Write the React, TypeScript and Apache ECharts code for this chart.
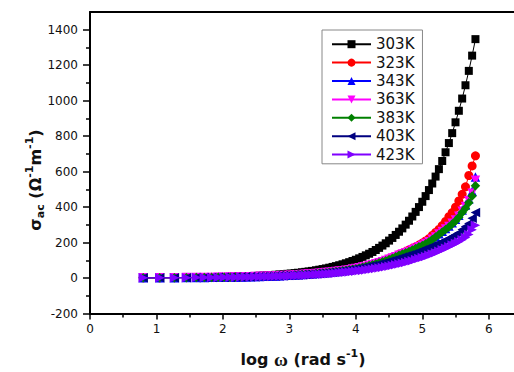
import React, { useEffect, useRef } from 'react';
import * as echarts from 'echarts';

// log ω (rad s^-1)
const logOmega = [0.80, 1.05, 1.27, 1.45, 1.60, 1.72, 1.83, 1.93, 2.02, 2.11, 2.19, 2.27, 2.34, 2.41, 2.48, 2.55, 2.61, 2.67, 2.73, 2.79, 2.85, 2.91, 2.97, 3.02, 3.08, 3.13, 3.19, 3.24, 3.29, 3.34, 3.40, 3.45, 3.50, 3.55, 3.60, 3.65, 3.70, 3.75, 3.80, 3.85, 3.90, 3.95, 4.00, 4.05, 4.10, 4.15, 4.20, 4.25, 4.30, 4.35, 4.40, 4.45, 4.50, 4.55, 4.60, 4.65, 4.70, 4.75, 4.80, 4.85, 4.90, 4.95, 5.00, 5.05, 5.10, 5.15, 5.20, 5.25, 5.30, 5.35, 5.40, 5.45, 5.50, 5.55, 5.60, 5.65, 5.70, 5.75, 5.80];

const sigma303 = [1.1, 1.5, 2.1, 2.7, 3.4, 4.0, 4.7, 5.4, 6.1, 7.0, 7.8, 8.8, 9.7, 10.7, 11.8, 13.1, 14.2, 15.5, 16.8, 18.3, 20.0, 21.7, 23.7, 25.4, 27.7, 29.8, 32.4, 34.8, 37.4, 40.2, 43.8, 47.0, 50.5, 54.2, 58.2, 62.6, 67.2, 72.2, 77.5, 83.2, 89.4, 96.0, 103, 111, 119, 128, 137, 147, 158, 170, 183, 196, 211, 226, 243, 261, 280, 301, 323, 347, 373, 400, 430, 462, 496, 533, 572, 614, 660, 709, 761, 817, 878, 943, 1012, 1087, 1168, 1254, 1347];
const sigma323 = [1.0, 1.4, 1.9, 2.3, 2.8, 3.3, 3.7, 4.2, 4.7, 5.2, 5.8, 6.4, 7.0, 7.7, 8.4, 9.2, 9.9, 10.6, 11.5, 12.3, 13.3, 14.3, 15.4, 16.4, 17.7, 18.8, 20.2, 21.5, 22.9, 24.3, 26.2, 27.9, 29.7, 31.6, 33.6, 35.8, 38, 40.5, 43, 46, 49, 52, 56, 59, 64, 68, 73, 78, 83, 89, 95, 102, 109, 116, 124, 133, 141, 149, 158, 167, 176, 186, 197, 209, 222, 240, 257, 274, 296, 319, 346, 369, 399, 435, 472, 514, 578, 632, 689];
const sigma343 = [1.0, 1.4, 1.9, 2.3, 2.8, 3.2, 3.7, 4.1, 4.6, 5.1, 5.7, 6.3, 6.9, 7.5, 8.2, 8.9, 9.7, 10.4, 11.2, 12.0, 13.0, 14.0, 15.1, 16.1, 17.3, 18.4, 19.9, 21.1, 22.5, 23.9, 25.8, 27.4, 29.2, 31.0, 33.0, 35.1, 37.4, 39.8, 42.2, 45.0, 47, 50.5, 54, 57.5, 62, 66, 71, 76, 81, 86.5, 92.5, 99, 106, 113, 121, 129, 136, 143, 150, 159, 168, 177, 186, 195, 206, 219, 233, 249, 264, 279, 294, 312, 331, 354, 383, 412, 446, 490, 569];
const sigma363 = [1.0, 1.4, 1.8, 2.3, 2.7, 3.2, 3.6, 4.1, 4.6, 5.1, 5.6, 6.2, 6.8, 7.4, 8.1, 8.8, 9.5, 10.3, 11.1, 11.9, 12.8, 13.8, 14.9, 15.9, 17.1, 18.2, 19.6, 20.8, 22.2, 23.6, 25.4, 27.0, 28.8, 30.6, 32.5, 34.6, 36.9, 39.2, 41.6, 44.4, 47, 50.5, 53.5, 57.5, 61.5, 65.5, 70.5, 75.5, 80.5, 86, 92, 99, 106, 113, 120, 128, 135, 143, 150, 159, 168, 177, 185, 194, 205, 218, 232, 248, 262, 277, 291, 309, 327, 349, 377, 403, 436, 478, 552];
const sigma383 = [1.0, 1.4, 1.8, 2.2, 2.7, 3.1, 3.6, 4.0, 4.5, 5.0, 5.5, 6.1, 6.7, 7.3, 8.0, 8.7, 9.4, 10.1, 10.9, 11.7, 12.6, 13.6, 14.7, 15.6, 16.8, 17.9, 19.3, 20.5, 21.8, 23.2, 25, 26.6, 28.3, 30.1, 32, 34.1, 36.3, 38.6, 41, 43.7, 46.5, 50, 53, 57, 61, 65, 70, 75, 80, 85.5, 91.5, 98, 105, 112, 120, 128, 135, 142, 149, 158, 167, 176, 184, 193, 204, 217, 231, 246, 260, 274, 288, 305, 322, 343, 370, 394, 425, 462, 520];
const sigma403 = [1.0, 1.3, 1.7, 2.2, 2.6, 3.1, 3.5, 4.0, 4.4, 4.9, 5.4, 6.0, 6.6, 7.2, 7.9, 8.6, 9.3, 10.0, 10.7, 11.5, 12.4, 13.4, 14.4, 15.3, 16.5, 17.5, 18.8, 20.0, 21.2, 22.5, 24.2, 25.7, 27.3, 29, 31, 33, 35, 37, 39.5, 42, 45, 48, 51, 54.5, 58, 62, 66, 70, 74, 79, 84, 89, 94, 100, 106, 112, 118, 124, 130, 136, 143, 150, 158, 165, 172, 180, 188, 196, 205, 214, 223, 234, 244, 256, 273, 290, 308, 337, 370];
const sigma423 = [0.9, 1.2, 1.6, 2.0, 2.4, 2.8, 3.2, 3.6, 4.0, 4.4, 4.9, 5.4, 5.9, 6.4, 6.9, 7.5, 8.0, 8.6, 9.2, 9.8, 10.5, 11.2, 12.0, 12.7, 13.6, 14.4, 15.4, 16.3, 17.3, 18.3, 19.6, 20.8, 22.0, 23.2, 24.6, 26.0, 27.5, 29.1, 30.8, 32.5, 34.5, 36.5, 38.5, 40.5, 43, 45.5, 48, 51, 54, 57, 60, 63.5, 67, 71, 75, 79, 83, 88, 93, 98, 104, 110, 116, 122, 129, 136, 143, 151, 159, 168, 177, 186, 195, 205, 216, 228, 246, 272, 298];

const seriesNames = ['303K', '323K', '343K', '363K', '383K', '403K', '423K'];
const seriesValues = [sigma303, sigma323, sigma343, sigma363, sigma383, sigma403, sigma423];
const seriesColors = ['#000000', '#ff0000', '#0000ff', '#ff00ff', '#008000', '#000080', '#8000ff'];
const seriesSymbols = [
  'rect',
  'circle',
  'triangle',
  'path://M0,0L10,0L5,9Z',
  'diamond',
  'path://M9,0L9,10L0,5Z',
  'path://M0,0L0,10L9,5Z',
];
const seriesSymbolSizes = [8, 9, 9.5, 9.5, 9.5, 9.5, 9.5];

const xMajorTicks = [0, 1, 2, 3, 4, 5, 6];
const xMinorTicks = [0.5, 1.5, 2.5, 3.5, 4.5, 5.5];
const yMajorTicks = [-200, 0, 200, 400, 600, 800, 1000, 1200, 1400];
const yMinorTicks = [-100, 100, 300, 500, 700, 900, 1100, 1300];

const X_MIN = 0;
const X_MAX = 6.38;
const Y_MIN = -200;
const Y_MAX = 1500;

export default function App() {
  const ref = useRef<HTMLDivElement>(null);

  useEffect(() => {
    if (!ref.current) return;
    const chart = echarts.init(ref.current, undefined, { renderer: 'svg' });
    const gridPos = { left: 90, right: 0, top: 12, bottom: 58.5 };
    const labelFont = { fontFamily: 'DejaVu Sans', fontSize: 12, color: '#111' };
    const plain = (v: number) => String(v);

    const series = seriesNames.map((name, i) => ({
      name,
      type: 'line',
      xAxisIndex: 0,
      yAxisIndex: 0,
      data: logOmega.map((x, j) => [x, seriesValues[i][j]]),
      symbol: seriesSymbols[i],
      symbolSize: seriesSymbolSizes[i],
      showAllSymbol: true,
      color: seriesColors[i],
      itemStyle: { color: seriesColors[i] },
      lineStyle: { color: seriesColors[i], width: 1 },
      z: 2 + i,
    }));

    chart.setOption({
      animation: false,
      grid: [
        { ...gridPos },
        { ...gridPos },
      ],
      xAxis: [
        {
          type: 'value', gridIndex: 0, position: 'bottom', min: X_MIN, max: X_MAX, interval: 1,
          axisLine: { show: true, onZero: false, lineStyle: { color: '#000', width: 2 } },
          axisTick: { show: true, length: 6, lineStyle: { color: '#000', width: 1.5 }, customValues: xMajorTicks },
          axisLabel: { show: true, margin: 9, ...labelFont, formatter: plain, customValues: xMajorTicks },
          splitLine: { show: false },
        },
        {
          type: 'value', gridIndex: 0, position: 'top', min: X_MIN, max: X_MAX, interval: 1,
          axisLine: { show: true, onZero: false, lineStyle: { color: '#000', width: 2 } },
          axisTick: { show: false },
          axisLabel: { show: false },
          splitLine: { show: false },
        },
        {
          type: 'value', gridIndex: 1, position: 'bottom', min: X_MIN, max: X_MAX, interval: 0.5,
          axisLine: { show: false, onZero: false },
          axisTick: { show: true, length: 4, lineStyle: { color: '#000', width: 1.5 }, customValues: xMinorTicks },
          axisLabel: { show: false },
          splitLine: { show: false },
        },
      ],
      yAxis: [
        {
          type: 'value', gridIndex: 0, position: 'left', min: Y_MIN, max: Y_MAX, interval: 100,
          axisLine: { show: true, onZero: false, lineStyle: { color: '#000', width: 2 } },
          axisTick: { show: true, length: 7, lineStyle: { color: '#000', width: 1.5 }, customValues: yMajorTicks },
          axisLabel: { show: true, margin: 12, ...labelFont, formatter: plain, customValues: yMajorTicks },
          splitLine: { show: false },
        },
        {
          type: 'value', gridIndex: 1, position: 'left', min: Y_MIN, max: Y_MAX, interval: 100,
          axisLine: { show: false, onZero: false },
          axisTick: { show: true, length: 4, lineStyle: { color: '#000', width: 1.5 }, customValues: yMinorTicks },
          axisLabel: { show: false },
          splitLine: { show: false },
        },
      ],
      legend: {
        orient: 'vertical',
        left: 322,
        top: 30,
        padding: [6, 8, 1, 9],
        itemGap: 2,
        itemWidth: 39,
        itemHeight: 10,
        borderColor: '#888',
        borderWidth: 1,
        backgroundColor: '#fff',
        textStyle: { fontFamily: 'DejaVu Sans', fontSize: 15, color: '#111', lineHeight: 16.4 },
        data: seriesNames,
      },
      graphic: [
        {
          type: 'text',
          x: 303,
          y: 359,
          style: {
            text: '{b|log }{w|ω}{b| (rad s}{sup|-1}{b|)}',
            align: 'center',
            verticalAlign: 'middle',
            fill: '#111',
            rich: {
              b: { fontFamily: 'DejaVu Sans', fontWeight: 'bold', fontSize: 16, lineHeight: 22, verticalAlign: 'middle', fill: '#111' },
              w: { fontFamily: 'Liberation Serif', fontWeight: 'bold', fontSize: 19, lineHeight: 22, verticalAlign: 'middle', fill: '#111' },
              sup: { fontFamily: 'DejaVu Sans', fontWeight: 'bold', fontSize: 11, lineHeight: 12, verticalAlign: 'top', fill: '#111' },
            },
          },
        },
        {
          type: 'text',
          x: 35,
          y: 180,
          rotation: Math.PI / 2,
          style: {
            text: '{b|σ}{sub|ac}{b| (Ω}{sup|-1}{b|m}{sup|-1}{b|)}',
            align: 'center',
            verticalAlign: 'middle',
            fill: '#111',
            rich: {
              b: { fontFamily: 'DejaVu Sans', fontWeight: 'bold', fontSize: 16, lineHeight: 22, verticalAlign: 'middle', fill: '#111' },
              sub: { fontFamily: 'DejaVu Sans', fontWeight: 'bold', fontSize: 11, lineHeight: 12, verticalAlign: 'bottom', fill: '#111' },
              sup: { fontFamily: 'DejaVu Sans', fontWeight: 'bold', fontSize: 11, lineHeight: 12, verticalAlign: 'top', fill: '#111' },
            },
          },
        },
      ],
      series,
    });

    return () => chart.dispose();
  }, []);

  return (
    <div
      ref={ref}
      style={{ position: 'absolute', left: 0, top: 0, width: 514, height: 372, background: '#fff' }}
    />
  );
}
